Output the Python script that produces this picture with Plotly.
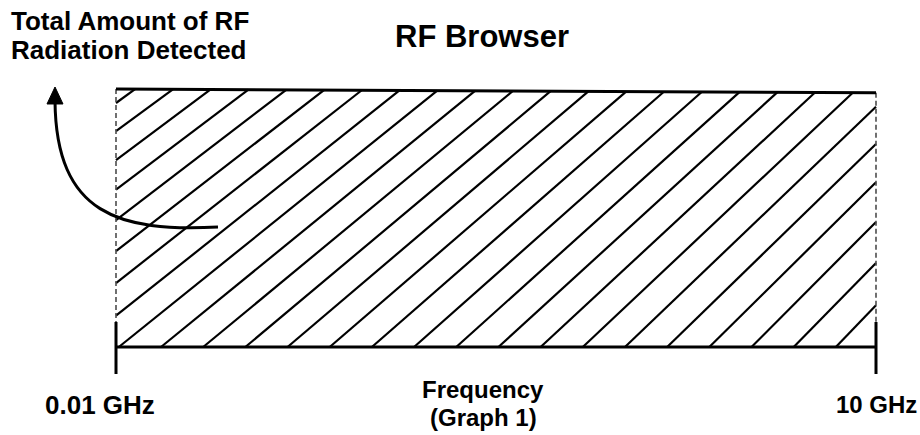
import math
import plotly.graph_objects as go

# Sweep span of the browser (GHz) and relative amount of RF detected at each end
FREQ_GHZ = [0.01, 10.0]
DETECTED = [1.0, 0.985]
TICK_LABELS = ["0.01 GHz", "10 GHz"]

TITLE = "RF Browser"
X_TITLE = ["Frequency", "(Graph 1)"]
CALLOUT = ["Total Amount of RF", "Radiation Detected"]

# ---- canvas / plot geometry -------------------------------------------------
W, H = 920, 435
M = dict(l=100, r=30, t=50, b=40)
X0_PX, X1_PX = 116, 876      # where the two end frequencies sit
Y0_PX, Y1_PX = 347, 89       # baseline and the 1.0 level

lo, hi = math.log10(FREQ_GHZ[0]), math.log10(FREQ_GHZ[1])
px_per_dec = (X1_PX - X0_PX) / (hi - lo)
px_per_unit = Y0_PX - Y1_PX
xr = [lo - (X0_PX - M["l"]) / px_per_dec, hi + (W - M["r"] - X1_PX) / px_per_dec]
yr = [-(H - M["b"] - Y0_PX) / px_per_unit, (Y0_PX - M["t"]) / px_per_unit]

TICK_TOP = 25 / px_per_unit      # end ticks rise a little above the baseline
TICK_BOT = -27 / px_per_unit     # ... and hang below it

FONT = "Liberation Sans, Arial, Helvetica, sans-serif"


def f2freq(f):
    """fraction of the log span -> frequency in GHz"""
    return 10 ** (lo + f * (hi - lo))


def ytop(f):
    return DETECTED[0] + (DETECTED[1] - DETECTED[0]) * f


# ---- hatch of the detected area (hand-drawn style, slightly fanning) --------
TOP_OFF, TOP_STEP = 0.4724, 0.0497
BOT_OFF, BOT_STEP = 0.0592, 0.0555

hx, hy = [], []
for k in range(-20, 30):
    ft = TOP_OFF + k * TOP_STEP
    fb = BOT_OFF + k * BOT_STEP
    if fb >= 1:
        continue
    yt = ytop(ft)
    slope = yt / (ft - fb)
    if fb >= 0:
        s = (fb, 0.0)
    else:
        y_left = slope * (0 - fb)
        if y_left >= ytop(0):
            continue
        s = (0.0, y_left)
    if ft <= 1:
        e = (ft, yt)
    else:
        e = (1.0, slope * (1 - fb))
    hx += [f2freq(s[0]), f2freq(e[0]), None]
    hy += [s[1], e[1], None]

fig = go.Figure()
fig.add_trace(go.Scatter(x=hx, y=hy, mode="lines",
                         line=dict(color="black", width=2.2), hoverinfo="skip"))

# dashed side edges of the area
for fq, lvl in zip(FREQ_GHZ, DETECTED):
    fig.add_trace(go.Scatter(x=[fq, fq], y=[lvl, TICK_TOP], mode="lines",
                             line=dict(color="#4d4d4d", width=1.6, dash="5px,3px"),
                             hoverinfo="skip"))

# level of detected radiation
fig.add_trace(go.Scatter(x=FREQ_GHZ, y=DETECTED, mode="lines",
                         line=dict(color="black", width=3), hoverinfo="skip"))
# frequency axis line
fig.add_trace(go.Scatter(x=FREQ_GHZ, y=[0, 0], mode="lines",
                         line=dict(color="black", width=3), hoverinfo="skip"))
# end ticks
for fq in FREQ_GHZ:
    fig.add_trace(go.Scatter(x=[fq, fq], y=[TICK_TOP, TICK_BOT], mode="lines",
                             line=dict(color="black", width=3), hoverinfo="skip"))


def pp(px, py):
    """canvas pixel -> paper coordinates"""
    return ((px - M["l"]) / (W - M["l"] - M["r"]),
            (H - M["b"] - py) / (H - M["t"] - M["b"]))


def path(cmds):
    out = []
    for c in cmds:
        if isinstance(c, str):
            out.append(c)
        else:
            x, y = pp(*c)
            out.append(f"{x:.5f},{y:.5f}")
    return " ".join(out)


# curved call-out arrow
curve = path(["M", (218, 227), "C", (120, 232), (56, 215), (55, 101)])
head = path(["M", (55, 87), "L", (47, 104), "L", (63, 104), "Z"])

shapes = [
    dict(type="path", xref="paper", yref="paper", path=curve,
         line=dict(color="black", width=3)),
    dict(type="path", xref="paper", yref="paper", path=head,
         line=dict(color="black", width=1), fillcolor="black"),
]


def label(text, px, py, size, xanchor="center"):
    x, y = pp(px, py)
    return dict(text=f"<b>{text}</b>", x=x, y=y, xref="paper", yref="paper",
                xanchor=xanchor, yanchor="middle", showarrow=False,
                font=dict(family=FONT, size=size, color="black"))


annotations = [
    label(TITLE, 482, 37, 31),
    label(CALLOUT[0], 9, 21, 26, "left"),
    label(CALLOUT[1], 9, 50, 26, "left"),
    label(X_TITLE[0], 483, 389, 24),
    label(X_TITLE[1], 483, 417, 24),
    label(TICK_LABELS[0], 100, 405, 26),
    label(TICK_LABELS[1], X1_PX, 405, 24),
]

fig.update_layout(
    width=W, height=H,
    margin=dict(l=M["l"], r=M["r"], t=M["t"], b=M["b"], pad=0),
    paper_bgcolor="white", plot_bgcolor="white",
    showlegend=False,
    xaxis=dict(type="log", range=xr, visible=False, fixedrange=True),
    yaxis=dict(range=yr, visible=False, fixedrange=True),
    shapes=shapes,
    annotations=annotations,
)

fig.write_html("out.html")
